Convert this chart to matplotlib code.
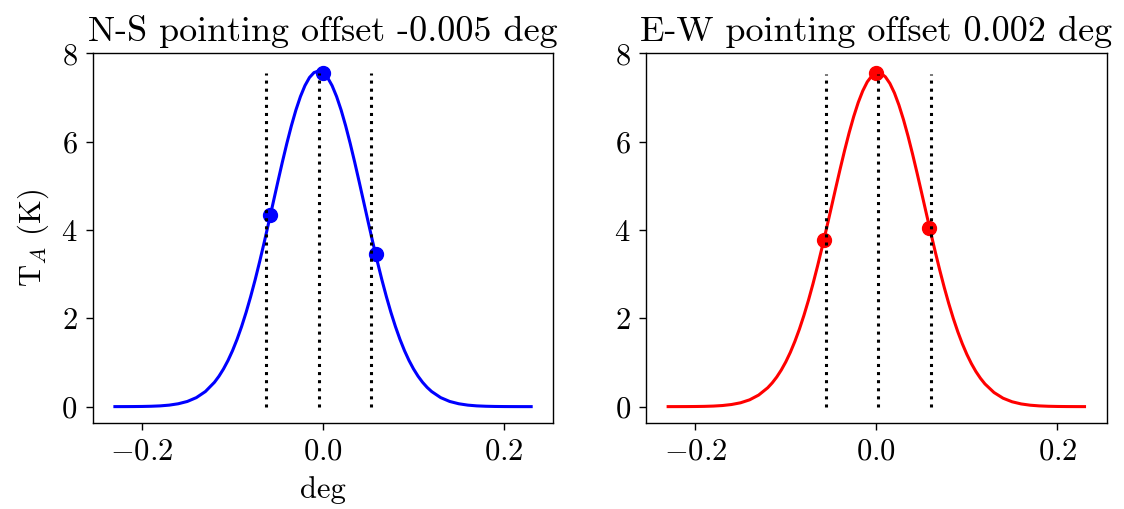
import matplotlib
matplotlib.use("Agg")
import matplotlib.pyplot as plt

plt.rcParams['font.family'] = 'serif'
plt.rcParams['font.serif'] = ['cmr10']
plt.rcParams['mathtext.fontset'] = 'cm'
plt.rcParams['axes.formatter.use_mathtext'] = True
plt.rcParams['axes.unicode_minus'] = True

# ---- data ----
deg_grid = [-0.23, -0.22, -0.21, -0.20, -0.19, -0.18, -0.17, -0.16, -0.15, -0.14, -0.13, -0.12,
            -0.115, -0.11, -0.105, -0.10, -0.095, -0.09, -0.085, -0.08, -0.075, -0.07,
            -0.065, -0.06, -0.055, -0.05, -0.045, -0.04, -0.035, -0.03, -0.025, -0.02,
            -0.015, -0.01, -0.005, 0.0, 0.005, 0.01, 0.015, 0.02, 0.025, 0.03,
            0.035, 0.04, 0.045, 0.05, 0.055, 0.06, 0.065, 0.07, 0.075, 0.08,
            0.085, 0.09, 0.095, 0.10, 0.105, 0.11, 0.115,
            0.12, 0.13, 0.14, 0.15, 0.16, 0.17, 0.18, 0.19, 0.20, 0.21, 0.22, 0.23]

ns_curve = [0.0003, 0.0008, 0.0018, 0.004, 0.0085, 0.017, 0.034, 0.065, 0.117, 0.204, 0.342, 0.551,
            0.689, 0.853, 1.045, 1.268, 1.524, 1.813, 2.135, 2.490, 2.874, 3.287,
            3.720, 4.170, 4.628, 5.085, 5.533, 5.960, 6.357, 6.714, 7.020, 7.268,
            7.451, 7.563, 7.600, 7.563, 7.451, 7.268, 7.020, 6.714, 6.357, 5.960,
            5.533, 5.085, 4.628, 4.170, 3.720, 3.287, 2.874, 2.490, 2.135, 1.813,
            1.524, 1.268, 1.045, 0.853, 0.689, 0.551, 0.436,
            0.342, 0.204, 0.117, 0.065, 0.034, 0.017, 0.0085, 0.004, 0.0018, 0.0008, 0.0003, 0.0001]

ew_curve = [0.0002, 0.0006, 0.0013, 0.0029, 0.0061, 0.0126, 0.025, 0.048, 0.087, 0.154, 0.262, 0.427,
            0.538, 0.671, 0.829, 1.014, 1.229, 1.476, 1.754, 2.065, 2.407, 2.779,
            3.178, 3.599, 4.038, 4.485, 4.936, 5.378, 5.804, 6.204, 6.567, 6.886,
            7.149, 7.353, 7.489, 7.554, 7.547, 7.467, 7.317, 7.102, 6.826, 6.498,
            6.127, 5.721, 5.290, 4.845, 4.395, 3.949, 3.514, 3.097, 2.702, 2.336,
            2.000, 1.696, 1.424, 1.184, 0.975, 0.795, 0.643,
            0.514, 0.320, 0.191, 0.110, 0.061, 0.0325, 0.0167, 0.0082, 0.0039, 0.0018, 0.0008, 0.0003]

point_deg = [-0.0583, 0.0, 0.0583]
ns_points = [4.33, 7.56, 3.45]
ew_points = [3.77, 7.55, 4.05]

ns_lines = [-0.063, -0.005, 0.053]
ew_lines = [-0.056, 0.002, 0.060]
ns_line_top = 7.55
ew_line_top = 7.53

ns_title = "N-S pointing offset -0.005 deg"
ew_title = "E-W pointing offset 0.002 deg"

x_ticks = [-0.2, 0.0, 0.2]
y_ticks = [0, 2, 4, 6, 8]

# ---- figure ----
fig = plt.figure(figsize=(11.24, 5.09), dpi=100)
ax1 = fig.add_axes([0.0825, 0.1684, 0.4098, 0.7269])
ax2 = fig.add_axes([0.5747, 0.1684, 0.4099, 0.7269])

panels = [
    (ax1, ns_curve, ns_points, ns_lines, ns_line_top, ns_title, 'blue'),
    (ax2, ew_curve, ew_points, ew_lines, ew_line_top, ew_title, 'red'),
]

for ax, curve, pts, lines, top, title, color in panels:
    ax.plot(deg_grid, curve, color=color, lw=2.2)
    ax.plot(point_deg, pts, 'o', color=color, ms=10)
    ax.vlines(lines, 0, top, colors='black', linestyles=':', lw=2.2)
    ax.set_xlim(-0.2545, 0.2545)
    ax.set_ylim(-0.377, 8.0)
    ax.set_xticks(x_ticks)
    ax.set_yticks(y_ticks)
    ax.tick_params(labelsize=22, length=5, width=1.0, pad=6)
    ax.set_title(title, fontsize=26, pad=9)
    for s in ax.spines.values():
        s.set_linewidth(1.0)

ax1.set_xlabel("deg", fontsize=22, labelpad=7)
ax1.set_ylabel(r"T$_A$ (K)", fontsize=22, labelpad=7)

fig.savefig("out.png", dpi=100)
